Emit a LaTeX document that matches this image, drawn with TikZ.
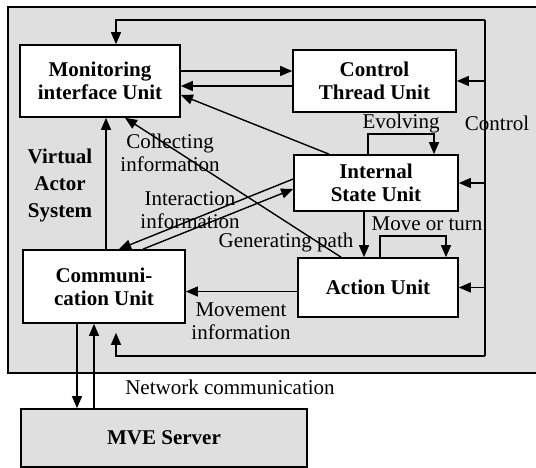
\documentclass[tikz,border=0pt]{standalone}
\usepackage{fontspec}
\setmainfont{Liberation Serif}
\usetikzlibrary{arrows.meta,positioning}
\tikzset{
    unit/.style={
        draw,
        fill=white,
        line width=1.7pt,
        align=center,
        inner sep=0pt,
        font=\fontsize{21}{23}\selectfont\bfseries
    },
    lbl/.style={
        align=center,
        inner sep=0pt,
        font=\fontsize{21}{23}\selectfont
    },
    arr/.style={
        line width=1.4pt,
        -{Triangle[length=12pt,width=10pt]}
    },
    ln/.style={
        line width=1.4pt
    }
}

\begin{document}
\begin{tikzpicture}[x=1pt,y=-1pt]
\useasboundingbox (0,0) rectangle (536,468);
\fill[gray!25] (8,7) rectangle (536,373);
\draw[line width=1.8pt] (536,7) -- (8,7) -- (8,373) -- (536,373);

\node[unit,minimum width=160pt,minimum height=72pt] (mon) at (100,81) {Monitoring\\interface Unit};
\node[unit,minimum width=163pt,minimum height=62pt] (ctrl) at (374.5,81) {Control\\Thread Unit};
\node[unit,minimum width=164pt,minimum height=56pt] (isu) at (376,183) {Internal\\State Unit};
\node[unit,minimum width=160pt,minimum height=59pt] (act) at (378,287.5) {Action Unit};
\node[unit,minimum width=162pt,minimum height=73pt] (comm) at (104,286.5) {Communi-\\cation Unit};
\node[unit,fill=gray!25,minimum width=286pt,minimum height=58pt] (mve) at (164,438) {MVE Server};

\node[lbl,font=\fontsize{21}{27}\selectfont\bfseries] (vas) at (60,185) {Virtual\\Actor\\System};
\node[lbl] (collect) at (170,153) {Collecting\\information};
\node[lbl] (interact) at (190,210) {Interaction\\information};
\node[lbl] (genpath) at (286,242) {Generating path};
\node[lbl] (evolve) at (401,123) {Evolving};
\node[lbl] (moveturn) at (427,224) {Move or turn};
\node[lbl] (control) at (497,123) {Control};
\node[lbl] (movement) at (241,321) {Movement\\information};
\node[lbl] (network) at (230,387) {Network communication};

\coordinate (ctlT) at (485,20);
\coordinate (ctlB) at (485,356);

\draw[arr] ([yshift=10pt]mon.east) -- ([yshift=10pt]mon.east -| ctrl.west);
\draw[arr] ([yshift=-5pt]ctrl.west) -- ([yshift=-5pt]ctrl.west -| mon.east);
\draw[arr] ([xshift=-47pt]isu.north) -- ([yshift=-14pt]mon.east);
\draw[arr] ([xshift=-37pt]act.north) -- ([xshift=25pt]mon.south);
\draw[arr] ([yshift=4pt]isu.west) -- ([xshift=15pt]comm.north);
\draw[arr] ([xshift=39pt]comm.north) -- ([yshift=-6pt]isu.west);
\draw[arr] ([xshift=-12pt]isu.south) -- ([xshift=-12pt]isu.south |- act.north);
\draw[arr] ([xshift=-8pt]isu.north) -- ++(0,-20) -| ([xshift=58pt]isu.north);
\draw[arr] ([xshift=2pt]act.north) -- ++(0,-21) -| ([xshift=68pt]act.north);
\draw[arr] ([yshift=-4pt]act.west) -- ([yshift=-4pt]act.west -| comm.east);
\draw[arr] ([xshift=2pt]comm.north) -- ([xshift=2pt]comm.north |- mon.south);

\draw[ln] (ctlT) -- (ctlB);
\draw[arr] (ctlT) -| ([xshift=16pt]mon.north);
\draw[arr] (ctlB) -| ([shift={(12,9)}]comm.south);
\draw[arr] (ctlT |- ctrl.east) -- (ctrl.east);
\draw[arr] (ctlT |- isu.east) -- (isu.east);
\draw[arr] (ctlT |- act.east) -- (act.east);

\draw[arr] ([xshift=-27pt]comm.south) -- ([xshift=-27pt]comm.south |- mve.north);
\draw[arr] ([xshift=-10pt]comm.south |- mve.north) -- ([xshift=-10pt]comm.south);
\end{tikzpicture}
\end{document}
